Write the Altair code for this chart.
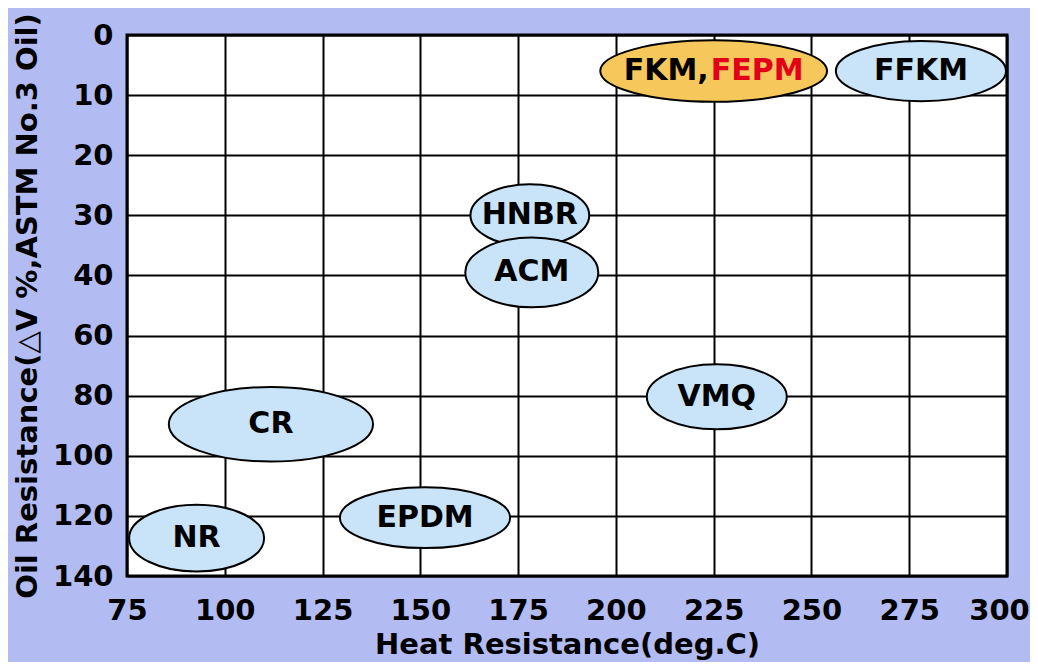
import altair as alt
import pandas as pd

# ---- data ----
materials = ["FKM,FEPM", "FFKM", "HNBR", "ACM", "VMQ", "CR", "EPDM", "NR"]
heat_center = [225.0, 278.0, 178.0, 178.5, 225.8, 111.8, 151.2, 92.8]   # deg.C
oil_center = [6.0, 6.0, 30.0, 39.5, 80.4, 89.5, 120.6, 127.4]           # dV %
heat_span = [58.0, 43.5, 30.4, 34.0, 35.8, 52.2, 43.5, 34.5]             # deg.C (ellipse width)
oil_span_rows = [1.02, 1.0, 1.03, 1.16, 1.08, 1.24, 1.01, 1.11]          # ellipse height in grid rows
highlight = [True, False, False, False, False, False, False, False]

x_ticks = [75, 100, 125, 150, 175, 200, 225, 250, 275, 300]
y_ticks = [0, 10, 20, 30, 40, 60, 80, 100, 120, 140]

# ---- layout ----
W, H = 880, 541
FONT = "DejaVu Sans"

y_range = [i * H / (len(y_ticks) - 1) for i in range(len(y_ticks))]
px_per_deg = W / (x_ticks[-1] - x_ticks[0])
px_per_row = H / (len(y_ticks) - 1)


def ellipse_path(w_deg, h_rows):
    rx = w_deg / 2 * px_per_deg
    ry = h_rows / 2 * px_per_row
    return (f"M{-rx:.1f},0A{rx:.1f},{ry:.1f},0,1,0,{rx:.1f},0"
            f"A{rx:.1f},{ry:.1f},0,1,0,{-rx:.1f},0Z")


df = pd.DataFrame({
    "material": materials,
    "heat": heat_center,
    "oil": oil_center,
    "path": [ellipse_path(w, h) for w, h in zip(heat_span, oil_span_rows)],
    "fill": ["#f6c75a" if h else "#c9e4f8" for h in highlight],
})

x_scale = alt.Scale(domain=[x_ticks[0], x_ticks[-1]], nice=False, zero=False)
y_scale = alt.Scale(type="linear", domain=y_ticks, range=y_range, nice=False, zero=False)

x_enc = alt.X(
    "heat:Q", scale=x_scale,
    axis=alt.Axis(values=x_ticks, title="Heat Resistance(deg.C)", grid=True,
                  ticks=False, tickSize=0, domain=False, labelFlush=False, labelOverlap=False,
                  labelOffset={"condition": {"test": f"datum.value >= {x_ticks[-1]}", "value": -8},
                               "value": 0},
                  labelPadding=20, titlePadding=5),
)
y_enc = alt.Y(
    "oil:Q", scale=y_scale,
    axis=alt.Axis(values=y_ticks, title="Oil Resistance(△V %,ASTM No.3 Oil)", grid=True,
                  ticks=False, tickSize=0, domain=False, labelFlush=False, labelOverlap=False,
                  labelPadding=14, titlePadding=10),
)

ellipses = alt.Chart(df).mark_point(
    filled=True, size=4, stroke="black", strokeWidth=2, opacity=1, fillOpacity=1,
).encode(
    x=x_enc, y=y_enc,
    shape=alt.Shape("path:N", scale=None, legend=None),
    fill=alt.Fill("fill:N", scale=None, legend=None),
)

base_text = dict(font=FONT, fontSize=30, fontWeight="bold", baseline="middle")

labels = alt.Chart(df[df["material"] != "FKM,FEPM"]).mark_text(
    align="center", color="black", **base_text
).encode(x=x_enc, y=y_enc, text="material:N")

fk = df[df["material"] == "FKM,FEPM"]
fkm_part = alt.Chart(fk).mark_text(align="right", dx=-5, color="black", **base_text).encode(
    x=x_enc, y=y_enc, text=alt.value("FKM,"))
fepm_part = alt.Chart(fk).mark_text(align="left", dx=-3, color="#e2001a", **base_text).encode(
    x=x_enc, y=y_enc, text=alt.value("FEPM"))

chart = alt.layer(ellipses, labels, fkm_part, fepm_part).properties(
    width=W, height=H,
    autosize=alt.AutoSizeParams(type="none"),
    padding={"left": 119, "top": 27, "right": 23, "bottom": 86},
    background="#b2bcf3",
).configure_view(
    fill="white", stroke="black", strokeWidth=3,
).configure_axis(
    gridColor="black", gridWidth=2, gridOpacity=1,
    labelFont=FONT, labelFontSize=29, labelFontWeight="bold", labelColor="black",
    titleFont=FONT, titleFontSize=29, titleFontWeight="bold", titleColor="black",
)

chart.save("out.html", embed_options={"renderer": "svg", "actions": False})
